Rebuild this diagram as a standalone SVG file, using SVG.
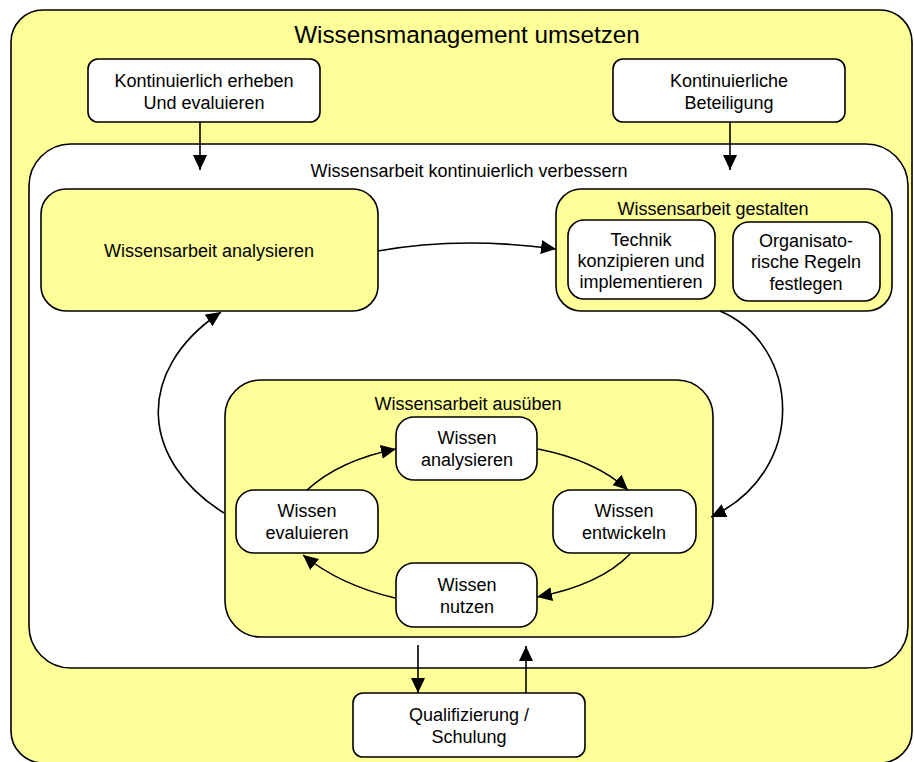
<svg xmlns="http://www.w3.org/2000/svg" width="914" height="762" viewBox="0 0 914 762">
<defs>
<style>
.y{fill:#FFFF99;stroke:#000;stroke-width:1.6}
.w{fill:#FFFFFF;stroke:#000;stroke-width:1.6}
text{font-family:"Liberation Sans",Arial,sans-serif;font-size:18px;fill:#000;text-anchor:middle}
.t{font-size:24.3px}
.c{fill:none;stroke:#000;stroke-width:1.6}
</style>
<marker id="ah" markerUnits="userSpaceOnUse" markerWidth="16" markerHeight="14" refX="15" refY="7" orient="auto">
<path d="M0,0 L15,7 L0,14 z" fill="#000"/>
</marker>
</defs>
<rect width="914" height="762" fill="#fff"/>
<g id="outer">
<rect class="y" x="11" y="10" width="901" height="753" rx="32"/>
<text class="t" x="467" y="43">Wissensmanagement umsetzen</text>
</g>
<g id="erheben">
<rect class="w" x="88" y="59" width="232" height="63" rx="10"/>
<text x="204" y="87">Kontinuierlich erheben</text>
<text x="204" y="109">Und evaluieren</text>
</g>
<g id="beteiligung">
<rect class="w" x="613" y="59" width="232" height="63" rx="10"/>
<text x="729" y="87">Kontinuierliche</text>
<text x="729" y="109">Beteiligung</text>
</g>
<g id="verbessern">
<rect class="w" x="29" y="144" width="879" height="524" rx="42"/>
<text x="469" y="177">Wissensarbeit kontinuierlich verbessern</text>
</g>
<g id="analysieren">
<rect class="y" x="41" y="189" width="337" height="122" rx="25"/>
<text x="209" y="257">Wissensarbeit analysieren</text>
</g>
<g id="gestalten">
<rect class="y" x="556" y="189" width="336" height="122" rx="25"/>
<text x="713" y="215">Wissensarbeit gestalten</text>
</g>
<g id="technik">
<rect class="w" x="568" y="220" width="147" height="79" rx="16"/>
<text x="641" y="246">Technik</text>
<text x="641" y="267">konzipieren und</text>
<text x="641" y="288">implementieren</text>
</g>
<g id="regeln">
<rect class="w" x="733" y="222" width="147" height="79" rx="16"/>
<text x="806" y="247">Organisato-</text>
<text x="806" y="268">rische Regeln</text>
<text x="806" y="290">festlegen</text>
</g>
<g id="ausueben">
<rect class="y" x="225" y="380" width="488" height="257" rx="36"/>
<text x="468" y="410">Wissensarbeit ausüben</text>
</g>
<g id="w-analysieren">
<rect class="w" x="396" y="417" width="141" height="63" rx="18"/>
<text x="467" y="444">Wissen</text>
<text x="467" y="466">analysieren</text>
</g>
<g id="w-evaluieren">
<rect class="w" x="236" y="490" width="142" height="63" rx="18"/>
<text x="307" y="517">Wissen</text>
<text x="307" y="539">evaluieren</text>
</g>
<g id="w-entwickeln">
<rect class="w" x="553" y="490" width="143" height="63" rx="18"/>
<text x="624" y="517">Wissen</text>
<text x="624" y="539">entwickeln</text>
</g>
<g id="w-nutzen">
<rect class="w" x="396" y="563" width="141" height="64" rx="18"/>
<text x="467" y="591">Wissen</text>
<text x="467" y="613">nutzen</text>
</g>
<g id="qualifizierung">
<rect class="w" x="353" y="693" width="232" height="64" rx="10"/>
<text x="469" y="721">Qualifizierung /</text>
<text x="469" y="743">Schulung</text>
</g>
<g id="connectors">
<path class="c" marker-end="url(#ah)" d="M200,122 L200,170"/>
<path class="c" marker-end="url(#ah)" d="M730,122 L730,170"/>
<path class="c" marker-end="url(#ah)" d="M378,251 Q460,236 556,249"/>
<path class="c" marker-end="url(#ah)" d="M720,311 C800,345 810,470 711,517"/>
<path class="c" marker-end="url(#ah)" d="M224,513 C142,462 132,372 221,312"/>
<path class="c" marker-end="url(#ah)" d="M307,490 Q340,460 396,449"/>
<path class="c" marker-end="url(#ah)" d="M538,449 Q595,460 628,490"/>
<path class="c" marker-end="url(#ah)" d="M630,554 Q600,585 537,597"/>
<path class="c" marker-end="url(#ah)" d="M395,598 Q340,585 303,555"/>
<path class="c" marker-end="url(#ah)" d="M418,645 L418,693"/>
<path class="c" marker-end="url(#ah)" d="M526,693 L526,646"/>
</g>
</svg>
